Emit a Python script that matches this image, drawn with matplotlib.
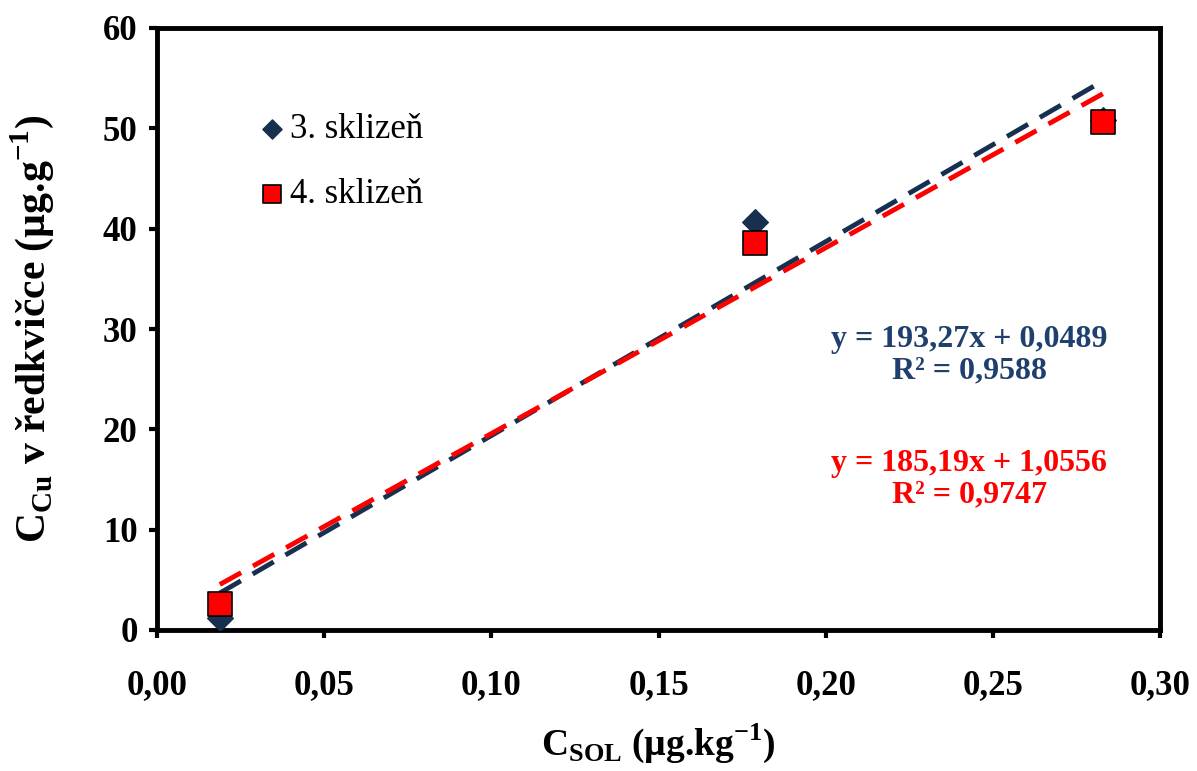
import numpy as np
import matplotlib.pyplot as plt

plt.rcParams['font.family'] = ['Liberation Serif', 'DejaVu Serif']
plt.rcParams['mathtext.fontset'] = 'custom'
plt.rcParams['mathtext.rm'] = 'Liberation Serif'
plt.rcParams['mathtext.bf'] = 'Liberation Serif:bold'

# data
x_sol = [0.0188, 0.179, 0.283]
y_3 = [1.2, 40.7, 50.8]
y_4 = [2.6, 38.6, 50.6]

# trend lines (from the printed equations)
fit_3 = (193.27, 0.0489, 0.9588)
fit_4 = (185.19, 1.0556, 0.9747)

navy = '#17304F'
red = '#FF0000'

fig = plt.figure(figsize=(11.97, 7.71), dpi=100)
ax = fig.add_axes([157 / 1197, 1 - 630 / 771, (1160 - 157) / 1197, (630 - 28) / 771])

xs = np.array([x_sol[0], x_sol[-1]])
ax.plot(xs, fit_3[0] * xs + fit_3[1], color=navy, lw=3.5, dashes=(5, 2.8), zorder=2)
ax.plot(xs, fit_4[0] * xs + fit_4[1], color=red, lw=3.5, dashes=(5, 2.8), zorder=2)

ax.scatter(x_sol, y_3, marker='D', s=170, color=navy, zorder=3, label='3. sklizeň')
ax.scatter(x_sol, y_4, marker='s', s=300, color=red, edgecolor='black', lw=1.2, zorder=4,
           label='4. sklizeň')

ax.set_xlim(0, 0.30)
ax.set_ylim(0, 60)
ax.set_xticks(np.arange(0, 0.301, 0.05))
ax.set_yticks(np.arange(0, 61, 10))
ax.set_xticklabels([f'{v:.2f}'.replace('.', ',') for v in np.arange(0, 0.301, 0.05)])
for s in ax.spines.values():
    s.set_linewidth(3.5)
ax.tick_params(direction='out', length=6, width=3, labelsize=25, pad=8)
ax.tick_params(axis='x', pad=22)
for lab in ax.get_xticklabels() + ax.get_yticklabels():
    lab.set_fontweight('bold')

ax.set_xlabel(r'C$_{\mathbf{SOL}}$ (µg.kg$^{\mathbf{-1}}$)', fontsize=27, fontweight='bold', labelpad=14)
ax.set_ylabel(r'C$_{\mathbf{Cu}}$ v ředkvičce (µg.g$^{\mathbf{-1}}$)', fontsize=30, fontweight='bold', labelpad=34)

ax.legend(loc='upper left', bbox_to_anchor=(0.07, 0.91), frameon=False, fontsize=25,
          handletextpad=0.1, labelspacing=0.9, handlelength=0.8, markerscale=0.75)

ax.text(0.81, 0.457, f'y = {fit_3[0]:.2f}x + {fit_3[1]:.4f}'.replace('.', ',') + '\n'
        + f'R² = {fit_3[2]:.4f}'.replace('.', ','), transform=ax.transAxes, color='#1F3F6F',
        fontsize=23, fontweight='bold', ha='center', va='center', linespacing=1.1)
ax.text(0.81, 0.25, f'y = {fit_4[0]:.2f}x + {fit_4[1]:.4f}'.replace('.', ',') + '\n'
        + f'R² = {fit_4[2]:.4f}'.replace('.', ','), transform=ax.transAxes, color=red,
        fontsize=23, fontweight='bold', ha='center', va='center', linespacing=1.1)

fig.savefig('out.png', dpi=100)
